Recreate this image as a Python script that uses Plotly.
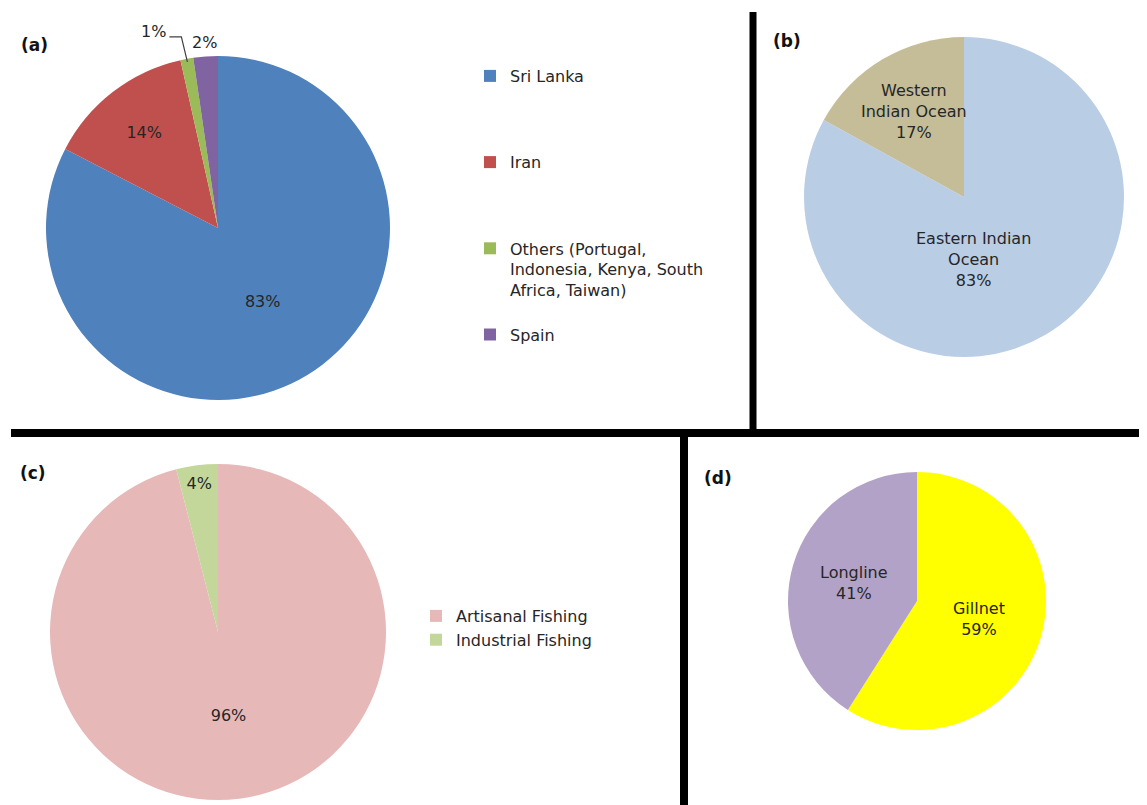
import math
import plotly.graph_objects as go

# page has an 8px body margin, so the figure is drawn 8px in from the corner
OFF = 8
W, H = 1147 - OFF, 805 - OFF

# (a) catches by country
a_labels = ["Sri Lanka", "Iran", "Others (Portugal,<br>Indonesia, Kenya, South<br>Africa, Taiwan)", "Spain"]
a_values = [82.6, 13.9, 1.2, 2.3]
a_colors = ["#4F81BD", "#C0504D", "#9BBB59", "#8064A2"]

# (b) by ocean
b_labels = ["Eastern Indian<br>Ocean", "Western<br>Indian Ocean"]
b_values = [83, 17]
b_colors = ["#B9CDE5", "#C4BD97"]

# (c) by fishery type
c_labels = ["Artisanal Fishing", "Industrial Fishing"]
c_values = [96, 4]
c_colors = ["#E6B9B8", "#C4D79B"]

# (d) by gear
d_labels = ["Gillnet", "Longline"]
d_values = [59, 41]
d_colors = ["#FFFF00", "#B3A2C7"]

FONT = "DejaVu Sans"
TXT = "#262626"


def px(x):
    return (x - OFF) / W


def py(y):
    return 1 - (y - OFF) / H


def dom(cx, cy, r):
    return dict(x=[px(cx - r), px(cx + r)], y=[py(cy + r), py(cy - r)])


def slice_mid(values, i):
    tot = sum(values)
    start = sum(values[:i]) / tot
    return (start + values[i] / tot / 2) * 2 * math.pi


def label(text, x, y, xanchor="center"):
    fig.add_annotation(text=text, x=px(x), y=py(y), xref="paper", yref="paper",
                       xanchor=xanchor, yanchor="middle", showarrow=False,
                       font=dict(family=FONT, size=16, color=TXT))


fig = go.Figure()

# pie (a): small slices get their labels as annotations further down
A_CX, A_CY, A_R = 218, 228, 172
fig.add_trace(go.Pie(
    labels=a_labels, values=a_values, sort=False, direction="clockwise", rotation=0,
    marker=dict(colors=a_colors, line=dict(width=0)),
    texttemplate="%{percent:.0%}", textposition=["inside", "inside", "none", "none"],
    textfont=dict(family=FONT, size=16, color=TXT),
    insidetextorientation="horizontal",
    domain=dom(A_CX, A_CY, A_R), legend="legend", hoverinfo="label+percent",
))

# pie (b): labels as annotations so they keep full size
B_CX, B_CY, B_R = 964, 197, 160
fig.add_trace(go.Pie(
    labels=b_labels, values=b_values, sort=False, direction="clockwise", rotation=0,
    marker=dict(colors=b_colors, line=dict(width=0)),
    textposition="none",
    domain=dom(B_CX, B_CY, B_R), showlegend=False,
))

fig.add_trace(go.Pie(
    labels=c_labels, values=c_values, sort=False, direction="counterclockwise", rotation=0,
    marker=dict(colors=c_colors, line=dict(width=0)),
    texttemplate="%{percent:.0%}", textposition="inside",
    textfont=dict(family=FONT, size=16, color=TXT),
    insidetextorientation="horizontal",
    domain=dom(218, 632, 168), legend="legend2",
))

fig.add_trace(go.Pie(
    labels=d_labels, values=d_values, sort=False, direction="clockwise", rotation=0,
    marker=dict(colors=d_colors, line=dict(width=0)),
    texttemplate="%{label}<br>%{percent:.0%}", textposition="inside",
    textfont=dict(family=FONT, size=16, color=TXT),
    insidetextorientation="horizontal",
    domain=dom(917, 601, 129), showlegend=False,
))

# (b) labels
b_pct = [v / sum(b_values) for v in b_values]
ang = slice_mid(b_values, 1)
label(f"{b_labels[1]}<br>{b_pct[1]:.0%}",
      B_CX + 0.62 * B_R * math.sin(ang), B_CY - 0.62 * B_R * math.cos(ang))
label(f"{b_labels[0]}<br>{b_pct[0]:.0%}", B_CX + 0.06 * B_R, B_CY + 0.39 * B_R)


# outside labels for the two thin slices of (a), placed from the slice mid-angles
def edge_point(ang, r):
    return A_CX + r * math.sin(ang), A_CY - r * math.cos(ang)


pct = [v / sum(a_values) for v in a_values]

# Spain: plain label just above the slice
sx, sy = edge_point(slice_mid(a_values, 3), A_R + 14)
label(f"{pct[3]:.0%}", sx, sy)

# Others: label up-left with an elbow leader line
ox, oy = edge_point(slice_mid(a_values, 2), A_R - 3)
kx, ky = ox - 6, oy - 25
tx, ty = kx - 12, ky
fig.add_shape(type="path", xref="paper", yref="paper",
              path=f"M {px(tx)} {py(ty)} L {px(kx)} {py(ky)} L {px(ox)} {py(oy)}",
              line=dict(color="#404040", width=1.2))
label(f"{pct[2]:.0%}", tx - 1, ty - 5, xanchor="right")

# panel letters
for t, x, y in [("(a)", 34, 45), ("(b)", 787, 41), ("(c)", 33, 473), ("(d)", 718, 478)]:
    fig.add_annotation(text=f"<b>{t}</b>", x=px(x), y=py(y), xref="paper", yref="paper",
                       showarrow=False, xanchor="center", yanchor="middle",
                       font=dict(family=FONT, size=17, color="#111111"))

# divider lines
fig.add_shape(type="line", xref="paper", yref="paper", x0=px(753), x1=px(753),
              y0=py(12), y1=py(433), line=dict(color="black", width=7))
fig.add_shape(type="line", xref="paper", yref="paper", x0=px(11), x1=1.0,
              y0=py(433), y1=py(433), line=dict(color="black", width=8))
fig.add_shape(type="line", xref="paper", yref="paper", x0=px(684), x1=px(684),
              y0=py(433), y1=0, line=dict(color="black", width=8))

fig.update_layout(
    width=W, height=H,
    margin=dict(l=0, r=0, t=0, b=0),
    paper_bgcolor="white", plot_bgcolor="white",
    font=dict(family=FONT, size=16, color=TXT),
    legend=dict(x=px(470), y=py(59), xanchor="left", yanchor="top",
                valign="top", traceorder="normal",
                font=dict(family=FONT, size=16, color=TXT), bgcolor="rgba(0,0,0,0)"),
    legend2=dict(x=px(416), y=py(599), xanchor="left", yanchor="top",
                 traceorder="normal",
                 font=dict(family=FONT, size=16, color=TXT), bgcolor="rgba(0,0,0,0)"),
)

# the wide spacing between the entries of legend (a)
fig.data[0].labels = ["Sri Lanka<br> <br> <br> ", "Iran<br> <br> <br> ",
                      a_labels[2] + "<br> ", "Spain"]

fig.write_html("out.html")
